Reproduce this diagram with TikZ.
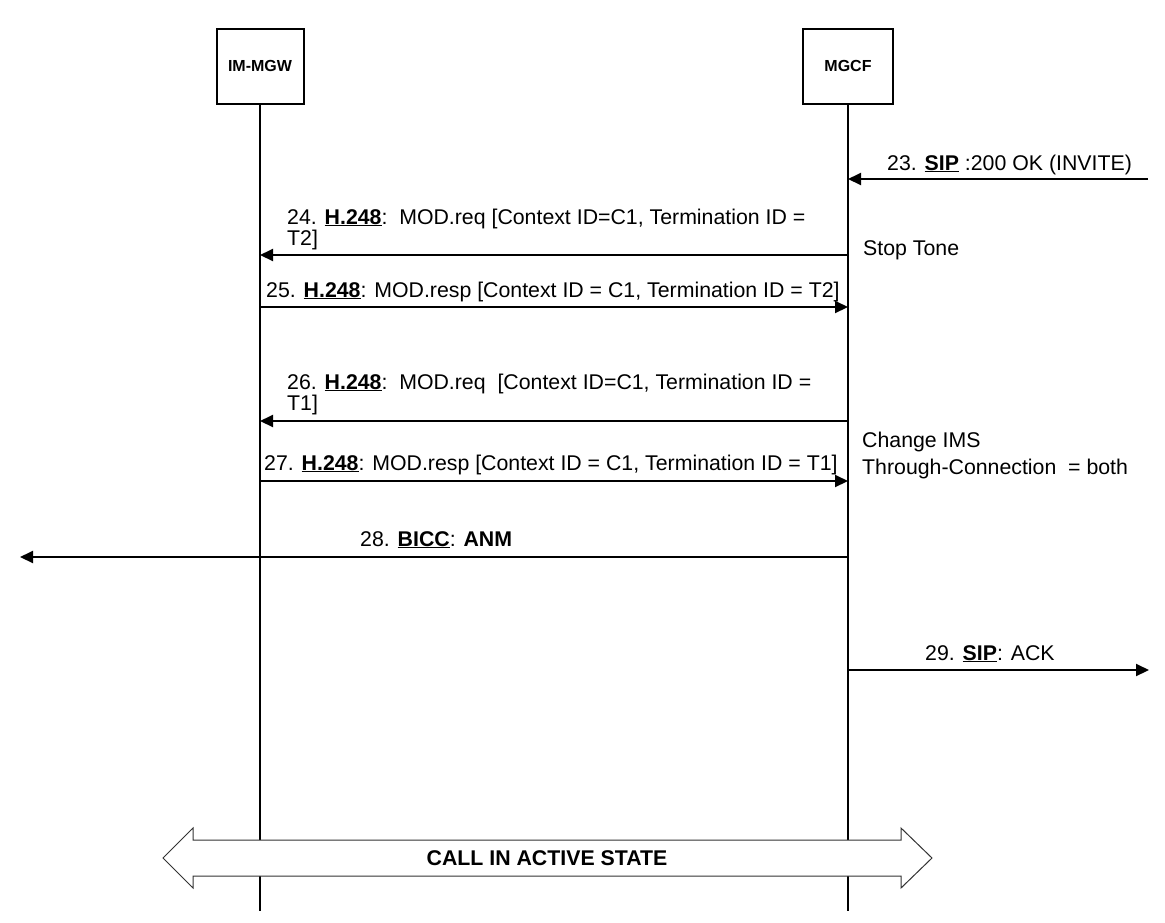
\documentclass[tikz,border=0pt]{standalone}
\usepackage{fontspec}
\setmainfont{Liberation Sans}
\usetikzlibrary{arrows.meta}
\tikzset{l/.style={font=\fontsize{21.3}{21}\selectfont, inner sep=0pt}}
\tikzset{m/.style={font=\fontsize{16}{16}\selectfont\bfseries}}
\tikzset{ent/.style={draw, line width=2pt, minimum width=87pt, minimum height=75pt, m}}
\tikzset{life/.style={line width=1.5pt}}
\tikzset{msg/.style={line width=2pt, -{Triangle[length=13pt,width=12pt]}}}
\newcommand{\proto}[1]{\underline{\textbf{#1}}}

\begin{document}
\begin{tikzpicture}[x=1pt, y=-1pt]
  \useasboundingbox (0,0) rectangle (1165,922);
  % entities
  \node [ent] (MGW) at (260,66) {IM-MGW};
  \node [ent, minimum width=90pt] (MGCF) at (848,66) {MGCF};
  \coordinate (MGWend) at (260,911);
  \coordinate (MGCFend) at (848,911);
  \draw [life] (MGW.south) -- (MGWend);
  \draw [life] (MGCF.south) -- (MGCFend);
  % outer ends
  \coordinate (sipin) at (1148,179);
  \coordinate (biccout) at (20,557);
  \coordinate (sipout) at (1149,670);
  % messages
  \draw [msg] (sipin) -- (sipin -| MGCF);
  \node [l, anchor=base west] (t23) at (887,170) {23. \proto{SIP} :200 OK (INVITE)};
  \draw [msg] (MGCF |- 0,255) -- (MGW |- 0,255);
  \node [l, anchor=base west, align=left] (t24) at (287,245) {24. \proto{H.248}:\ \ MOD.req [Context ID=C1, Termination ID =\\T2]};
  \node [l, anchor=base west] (stop) at (863,255) {Stop Tone};
  \draw [msg] (MGW |- 0,307) -- (MGCF |- 0,307);
  \node [l, anchor=base west] (t25) at (266,297) {25. \proto{H.248}: MOD.resp [Context ID = C1, Termination ID = T2]};
  \draw [msg] (MGCF |- 0,421) -- (MGW |- 0,421);
  \node [l, anchor=base west, align=left] (t26) at (287,410) {26. \proto{H.248}:\ \ MOD.req\ \ [Context ID=C1, Termination ID =\\T1]};
  \draw [msg] (MGW |- 0,481) -- (MGCF |- 0,481);
  \node [l, anchor=base west] (t27) at (264,470) {27. \proto{H.248}: MOD.resp [Context ID = C1, Termination ID = T1]};
  \node [l, anchor=base west, align=left, font=\fontsize{21.3}{27}\selectfont] (chg) at (862,474) {Change IMS\\Through-Connection\ \ = both};
  \draw [msg] (MGCF |- biccout) -- (biccout);
  \node [l, anchor=base west] (t28) at (360,546) {28. \proto{BICC}: \textbf{ANM}};
  \draw [msg] (MGCF |- sipout) -- (sipout);
  \node [l, anchor=base west] (t29) at (925,660) {29. \proto{SIP}: ACK};
  % call state
  \filldraw [fill=white, draw=black!80, line width=1pt] (163,858) -- (193,828) -- (193,840) -- (901,840) -- (901,828) -- (932,858)
    -- (901,888) -- (901,876) -- (193,876) -- (193,888) -- cycle;
  \node [l, font=\fontsize{21.3}{21}\selectfont\bfseries] (state) at (547,858) {CALL IN ACTIVE STATE};
\end{tikzpicture}
\end{document}
